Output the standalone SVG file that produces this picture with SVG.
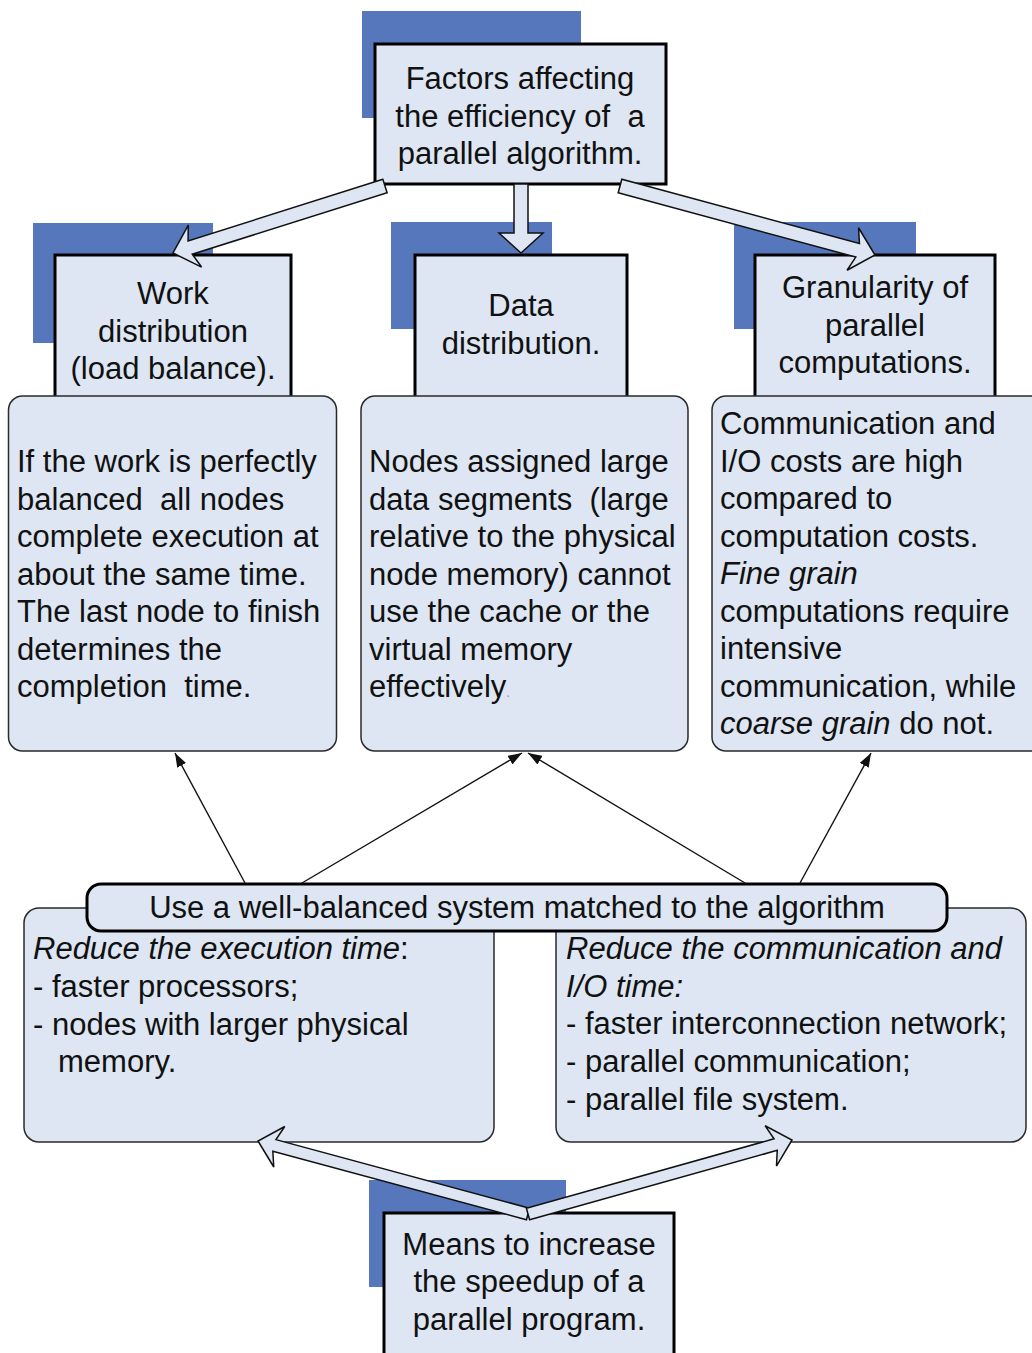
<svg xmlns="http://www.w3.org/2000/svg" width="1032" height="1353" viewBox="0 0 1032 1353">
<defs>
<style>
.shadow{fill:#5677bc;}
.hdr{fill:#dde6f2;stroke:#000;stroke-width:3;}
.cnt{fill:#dde6f2;stroke:#2a2a2a;stroke-width:1.5;}
.blk{fill:#dde6f2;stroke:#111;stroke-width:1.5;stroke-linejoin:miter;}
.thin{fill:none;stroke:#111;stroke-width:1.4;marker-end:url(#ah);}
text{font-family:"Liberation Sans",Arial,sans-serif;font-size:31px;fill:#111;}
.c{text-anchor:middle;}
.i{font-style:italic;}
</style>
<marker id="ah" viewBox="0 0 14 10" refX="14" refY="5" markerWidth="14" markerHeight="10" markerUnits="userSpaceOnUse" orient="auto">
<path d="M0,0 L14,5 L0,10 z" fill="#111"/>
</marker>
</defs>

<g id="node-top">
<rect class="shadow" x="362" y="11" width="219" height="107"/>
<rect class="hdr" x="375" y="44" width="291" height="140"/>
<text class="c" x="520" y="89">Factors affecting</text>
<text class="c" x="520" y="126.5" xml:space="preserve">the efficiency of  a</text>
<text class="c" x="520" y="164">parallel algorithm.</text>
</g>

<g id="node-work">
<rect class="shadow" x="33" y="223" width="180" height="120"/>
<rect class="hdr" x="55" y="255" width="236" height="150"/>
<text class="c" x="173" y="304">Work</text>
<text class="c" x="173" y="341.5">distribution</text>
<text class="c" x="173" y="379">(load balance).</text>
</g>

<g id="node-data">
<rect class="shadow" x="391" y="222" width="161" height="107"/>
<rect class="hdr" x="415" y="255" width="212" height="150"/>
<text class="c" x="521" y="316">Data</text>
<text class="c" x="521" y="353.5">distribution.</text>
</g>

<g id="node-gran">
<rect class="shadow" x="734" y="222" width="182" height="107"/>
<rect class="hdr" x="755" y="255" width="240" height="150"/>
<text class="c" x="875" y="298">Granularity of</text>
<text class="c" x="875" y="335.5">parallel</text>
<text class="c" x="875" y="373">computations.</text>
</g>

<g id="node-work-detail">
<rect class="cnt" x="8.5" y="396" width="328" height="355" rx="14"/>
<text x="17" y="472">If the work is perfectly</text>
<text x="17" y="509.5" xml:space="preserve">balanced  all nodes</text>
<text x="17" y="547">complete execution at</text>
<text x="17" y="584.5">about the same time.</text>
<text x="17" y="622">The last node to finish</text>
<text x="17" y="659.5">determines the</text>
<text x="17" y="697" xml:space="preserve">completion  time.</text>
</g>

<g id="node-data-detail">
<rect class="cnt" x="361" y="396" width="327" height="355" rx="14"/>
<text x="369" y="472">Nodes assigned large</text>
<text x="369" y="509.5" xml:space="preserve">data segments  (large</text>
<text x="369" y="547">relative to the physical</text>
<text x="369" y="584.5">node memory) cannot</text>
<text x="369" y="622">use the cache or the</text>
<text x="369" y="659.5">virtual memory</text>
<text x="369" y="697">effectively<tspan font-size="14" fill="#999">.</tspan></text>
</g>

<g id="node-gran-detail">
<rect class="cnt" x="712" y="396" width="340" height="355" rx="14"/>
<text x="720" y="434">Communication and</text>
<text x="720" y="471.5">I/O costs are high</text>
<text x="720" y="509">compared to</text>
<text x="720" y="546.5">computation costs.</text>
<text x="720" y="584" class="i">Fine grain</text>
<text x="720" y="621.5">computations require</text>
<text x="720" y="659">intensive</text>
<text x="720" y="696.5">communication, while</text>
<text x="720" y="734"><tspan class="i">coarse grain</tspan> do not.</text>
</g>

<g id="node-exec">
<rect class="cnt" x="24" y="908" width="470" height="234" rx="15"/>
<text x="33" y="959"><tspan class="i">Reduce the execution time</tspan>:</text>
<text x="33" y="997">- faster processors;</text>
<text x="33" y="1035">- nodes with larger physical</text>
<text x="58" y="1072">memory.</text>
</g>

<g id="node-comm">
<rect class="cnt" x="556" y="908" width="470" height="234" rx="15"/>
<text x="566" y="959" class="i">Reduce the communication and</text>
<text x="566" y="997" class="i">I/O time:</text>
<text x="566" y="1034">- faster interconnection network;</text>
<text x="566" y="1072">- parallel communication;</text>
<text x="566" y="1110">- parallel file system.</text>
</g>

<g id="node-balanced">
<rect class="hdr" x="87" y="884" width="860" height="47" rx="14"/>
<text class="c" x="517" y="918">Use a well-balanced system matched to the algorithm</text>
</g>

<g id="node-means">
<rect class="shadow" x="369" y="1180" width="197" height="107"/>
<rect class="hdr" x="384" y="1213" width="290" height="150"/>
<text class="c" x="529" y="1255">Means to increase</text>
<text class="c" x="529" y="1292">the speedup of a</text>
<text class="c" x="529" y="1330">parallel program.</text>
</g>

<g id="connectors">
<polygon class="blk" points="382.89,179.33 188.05,240.91 188.30,225.09 173,253 201.56,267.05 192.27,254.25 387.11,192.67"/>
<polygon class="blk" points="514,184 514,233 499,233 521,253 543,233 528,233 528,184"/>
<polygon class="blk" points="618.17,192.76 855.79,257.06 847.05,270.23 875,255 858.55,227.75 859.45,243.54 621.83,179.24"/>
<line class="thin" x1="245" y1="883" x2="175" y2="753"/>
<line class="thin" x1="302" y1="883" x2="522" y2="753"/>
<line class="thin" x1="745" y1="883" x2="528" y2="753"/>
<line class="thin" x1="800" y1="883" x2="871" y2="753"/>
<polygon class="blk" points="529.57,1208.21 275.98,1139.65 284.72,1126.47 258,1141 273.76,1167.01 272.84,1151.23 526.43,1219.79"/>
<polygon class="blk" points="529.62,1219.78 777.25,1150.37 776.49,1166.16 792,1140 765.15,1125.72 774.01,1138.81 526.38,1208.22"/>
</g>
</svg>
